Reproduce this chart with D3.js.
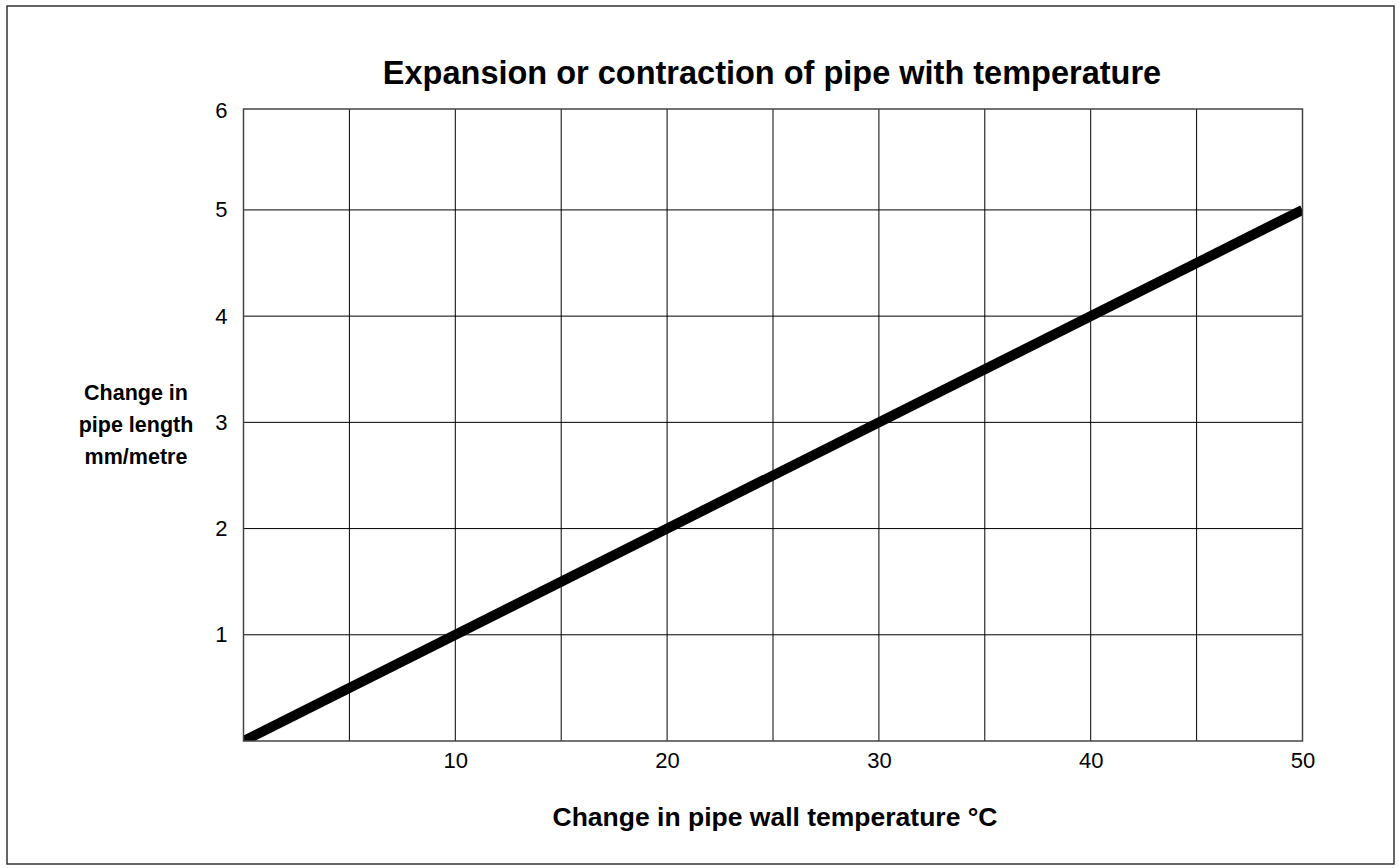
<!DOCTYPE html>
<html>
<head>
<meta charset="utf-8">
<script src="https://cdn.jsdelivr.net/npm/d3@7"></script>
<style>
    body { margin: 0; background: #fff; }
    svg { display: block; }
    svg text { font-family: "Liberation Sans", Arial, sans-serif; fill: #000; }
    .axisTitle, .chartTitle { font-weight: bold; }
</style>
</head>
<body>
<script>
(function (){

    //chart data
    var tempChange = [0, 50];          //change in pipe wall temperature, deg C
    var lengthChange = [0, 5];         //change in pipe length, mm/metre
    var xTickValues = [10, 20, 30, 40, 50];
    var xGridValues = [5, 10, 15, 20, 25, 30, 35, 40, 45, 50];
    var yTickValues = [1, 2, 3, 4, 5, 6];

    var titleText = "Expansion or contraction of pipe with temperature";
    var xTitleText = "Change in pipe wall temperature \u00B0C";
    var yTitleLines = ["Change in", "pipe length", "mm/metre"];

    window.onload = setChart();

    function setChart(){
        //frame dimensions
        var width = 1399,
            height = 868,
            left = 243.5,
            right = 1302.5,
            top = 109,
            bottom = 741;

        var svg = d3.select("body")
            .append("svg")
            .attr("width", width)
            .attr("height", height);

        //outer frame round the whole picture
        svg.append("rect")
            .attr("x", 7)
            .attr("y", 6)
            .attr("width", 1387)
            .attr("height", 858)
            .attr("fill", "none")
            .attr("stroke", "#333")
            .attr("stroke-width", 1.5);

        //scales
        var xScale = d3.scaleLinear()
            .domain([0, 50])
            .range([left, right]);

        var yScale = d3.scaleLinear()
            .domain([0, 5.95])
            .range([bottom, top]);

        //vertical grid lines
        svg.append("g")
            .attr("class", "grid")
            .selectAll("line")
            .data(xGridValues)
            .enter()
            .append("line")
            .attr("x1", function(d){ return xScale(d); })
            .attr("x2", function(d){ return xScale(d); })
            .attr("y1", top)
            .attr("y2", bottom)
            .attr("stroke", "#000")
            .attr("stroke-width", 1);

        //horizontal grid lines
        svg.append("g")
            .attr("class", "grid")
            .selectAll("line")
            .data(yTickValues.slice(0, -1))
            .enter()
            .append("line")
            .attr("x1", left)
            .attr("x2", right)
            .attr("y1", function(d){ return yScale(d); })
            .attr("y2", function(d){ return yScale(d); })
            .attr("stroke", "#000")
            .attr("stroke-width", 1);

        //x axis labels
        var xAxis = d3.axisBottom(xScale)
            .tickValues(xTickValues)
            .tickSize(0)
            .tickPadding(11)
            .tickFormat(d3.format("d"));

        svg.append("g")
            .attr("class", "axis")
            .attr("transform", "translate(0," + bottom + ")")
            .call(xAxis)
            .call(function(g){ g.select(".domain").remove(); })
            .selectAll("text")
            .style("font-size", "22px");

        //y axis labels, 6 sits on the top edge of the frame
        var yAxis = d3.axisLeft(yScale)
            .tickValues(yTickValues)
            .tickSize(0)
            .tickPadding(16)
            .tickFormat(d3.format("d"));

        var yAxisG = svg.append("g")
            .attr("class", "axis")
            .attr("transform", "translate(" + left + ",0)")
            .call(yAxis)
            .call(function(g){ g.select(".domain").remove(); });

        yAxisG.selectAll("text")
            .style("font-size", "22px");

        yAxisG.selectAll(".tick")
            .filter(function(d){ return d === 6; })
            .attr("transform", "translate(0," + (top + 1.5) + ")");

        //clip the line to the plot area
        svg.append("clipPath")
            .attr("id", "plotClip")
            .append("rect")
            .attr("x", left)
            .attr("y", top)
            .attr("width", right - left)
            .attr("height", bottom - top);

        var lineGen = d3.line()
            .x(function(d){ return xScale(d[0]); })
            .y(function(d){ return yScale(d[1]); });

        svg.append("path")
            .datum(d3.zip(tempChange, lengthChange))
            .attr("clip-path", "url(#plotClip)")
            .attr("d", lineGen)
            .attr("fill", "none")
            .attr("stroke", "#000")
            .attr("stroke-width", 10);

        //plot frame
        svg.append("rect")
            .attr("x", left)
            .attr("y", top)
            .attr("width", right - left)
            .attr("height", bottom - top)
            .attr("fill", "none")
            .attr("stroke", "#444")
            .attr("stroke-width", 1.5);

        //chart title
        svg.append("text")
            .attr("class", "chartTitle")
            .attr("x", 772)
            .attr("y", 84)
            .attr("text-anchor", "middle")
            .style("font-size", "32.5px")
            .text(titleText);

        //x axis title
        svg.append("text")
            .attr("class", "axisTitle")
            .attr("x", 775)
            .attr("y", 826)
            .attr("text-anchor", "middle")
            .style("font-size", "26.5px")
            .text(xTitleText);

        //y axis title over three lines
        svg.append("g")
            .selectAll("text")
            .data(yTitleLines)
            .enter()
            .append("text")
            .attr("class", "axisTitle")
            .attr("x", 136)
            .attr("y", function(d, i){ return 400 + i * 32; })
            .attr("text-anchor", "middle")
            .style("font-size", "21.5px")
            .text(function(d){ return d; });
    };

})();
</script>
</body>
</html>
